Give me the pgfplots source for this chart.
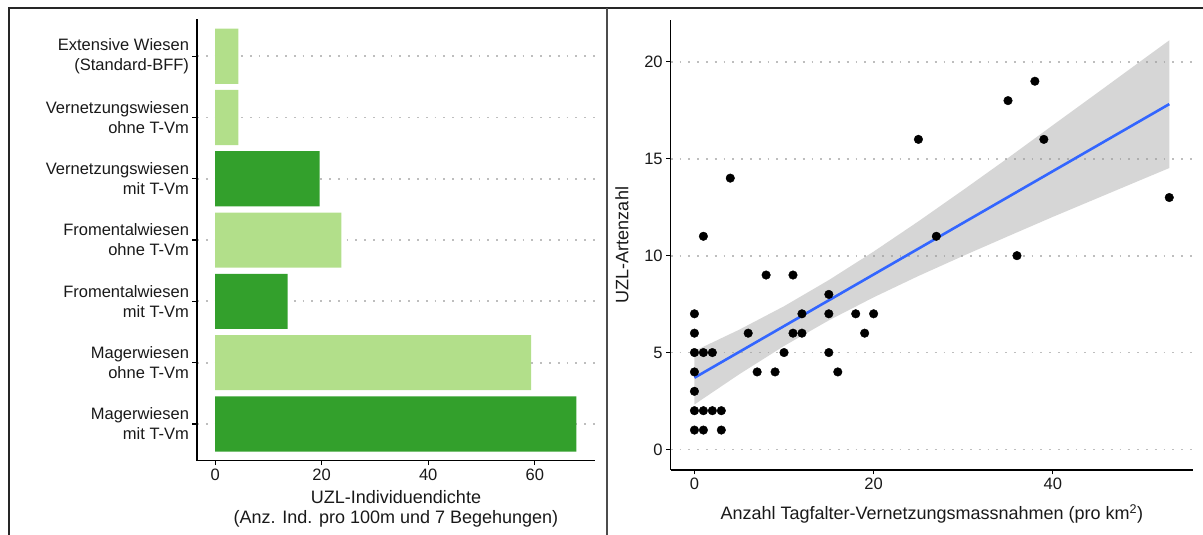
\documentclass[border=0pt]{standalone}
\usepackage{pgfplots}
\pgfplotsset{compat=1.18}
\usepackage{fontspec}
\setmainfont{Liberation Sans}
\definecolor{darkgreen}{HTML}{33A02C}
\definecolor{lightgreen}{HTML}{B2DF8A}
\definecolor{smoothblue}{HTML}{3366FF}
\definecolor{ribbon}{HTML}{999999}
\definecolor{gridgray}{HTML}{BEBEBE}
\begin{document}
\begin{tikzpicture}[x=1pt,y=1pt]
\path[use as bounding box] (0,0) rectangle (1203,535);
\pgfplotsset{
  myaxis/.style={
    scale only axis,
    axis lines=left,
    axis line style={-, line width=1.2pt, black},
    tick align=outside,
    major tick length=4.5pt,
    tick style={line width=1.2pt, black},
    every tick label/.append style={font=\fontsize{16.5}{20}\selectfont, text=black!90},
    /pgf/number format/assume math mode=true,
    label style={font=\fontsize{18}{20}\selectfont, text=black!90},
    ymajorgrids,
    major grid style={gridgray, line width=1.8pt, dash pattern=on 1.8pt off 7pt},
  }
}
% left panel
\begin{axis}[myaxis,
  at={(197pt,74.3pt)}, anchor=south west,
  width=398pt, height=441.2pt,
  xmin=-3.4, xmax=71.3, ymin=0.4, ymax=7.6,
  xtick={0,20,40,60},
  ytick={1,2,3,4,5,6,7},
  yticklabels={{Magerwiesen\\mit T-Vm},{Magerwiesen\\ohne T-Vm},{Fromentalwiesen\\mit T-Vm},{Fromentalwiesen\\ohne T-Vm},{Vernetzungswiesen\\mit T-Vm},{Vernetzungswiesen\\ohne T-Vm},{Extensive Wiesen\\(Standard-BFF)}},
  yticklabel style={align=right},
  xlabel={UZL-Individuendichte\\(Anz. Ind. pro 100m und 7 Begehungen)},
  xlabel style={align=center, at={(axis description cs:0.5,0)}, anchor=center, yshift=-48.3pt},
]
\addplot[xbar, bar width=0.9, bar shift=0pt, fill=lightgreen, draw=none]
  coordinates {(59.3,2) (23.7,4) (4.37,6) (4.37,7)};
\addplot[xbar, bar width=0.9, bar shift=0pt, fill=darkgreen, draw=none]
  coordinates {(67.8,1) (13.6,3) (19.6,5)};
\end{axis}
% right panel
\begin{axis}[myaxis,
  at={(670.7pt,65pt)}, anchor=south west,
  width=522.3pt, height=450pt,
  xmin=-2.65, xmax=55.65, ymin=-1.06, ymax=22.16,
  xtick={0,20,40}, ytick={0,5,10,15,20},
  xlabel={Anzahl Tagfalter-Vernetzungsmassnahmen (pro km\textsuperscript{2})},
  xlabel style={at={(axis description cs:0.5,0)}, anchor=base, yshift=-50pt},
  ylabel={UZL-Artenzahl},
  ylabel style={at={(axis description cs:-0.0932,0.5)}, anchor=center},
]
\addplot[only marks, mark=*, mark size=4.3pt, black, mark options={draw=black, fill=black}]
  coordinates {
  (0,7) (0,6) (0,5) (0,4) (0,3) (0,2) (0,1)
  (1,5) (1,2) (1,1) (1,11)
  (2,5) (2,2) (3,2) (3,1)
  (4,14) (6,6) (7,4) (8,9) (9,4) (10,5)
  (11,9) (11,6) (12,7) (12,6)
  (15,8) (15,7) (15,5) (16,4) (18,7) (19,6) (20,7)
  (25,16) (27,11) (35,18) (36,10) (38,19) (39,16) (53,13)
  };
\addplot[draw=none, fill=ribbon, fill opacity=0.4]
  coordinates {
  (0,5.08) (5,6.18) (10,7.39) (15,8.74) (20,10.21) (25,11.77) (30,13.39)
  (35,15.04) (40,16.73) (45,18.41) (50,20.10) (53,21.11)
  (53,14.52) (50,13.94) (45,12.97) (40,12.00) (35,11.00) (30,9.99)
  (25,8.95) (20,7.85) (15,6.66) (10,5.34) (5,3.88) (0,2.32)
  } -- cycle;
\addplot[smoothblue, line width=2.6pt] coordinates {(0,3.70) (53,17.82)};
\end{axis}
\draw[line width=1.5pt, black!85] (9,0) -- (9,527) -- (1203,527);
\draw[line width=2.5pt, black!70] (607,0) -- (607,527);
\end{tikzpicture}
\end{document}
